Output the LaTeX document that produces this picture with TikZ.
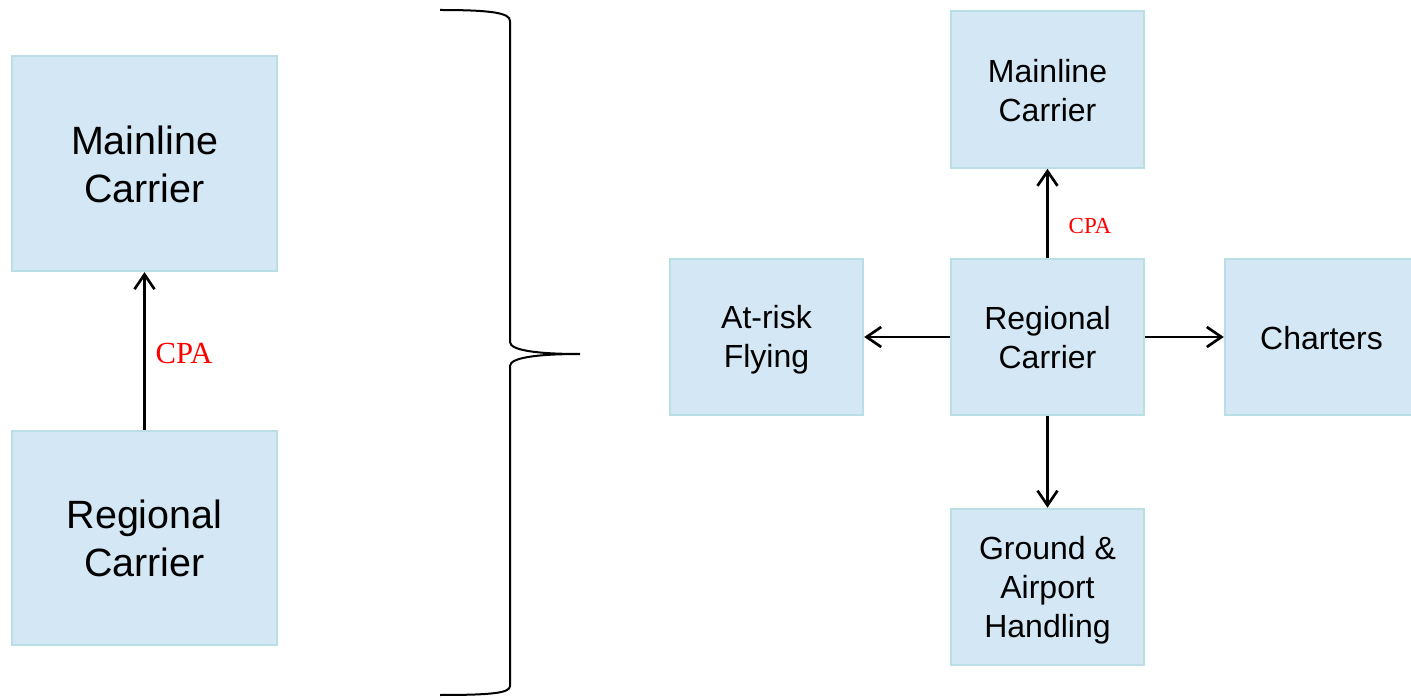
\documentclass[tikz,border=0pt]{standalone}
\usepackage{fontspec}
\setmainfont{Liberation Sans}
\newfontfamily\cpafont{Liberation Serif}
\usetikzlibrary{arrows.meta}
\definecolor{boxfill}{RGB}{212,231,245}
\definecolor{boxline}{RGB}{185,222,228}
\newcommand\smtop{\rule{0pt}{22pt}}
\newcommand\smbot{\rule[-3.25pt]{0pt}{3.25pt}}
\newcommand\bgtop{\rule{0pt}{27pt}}
\newcommand\bgbot{\rule[-5pt]{0pt}{5pt}}
\begin{document}
\begin{tikzpicture}[x=0.75pt,y=-0.75pt,
  box/.style={draw=boxline, fill=boxfill, line width=1.5pt, align=center, inner sep=0pt},
  bigbox/.style={box, minimum width=199pt, font=\fontsize{29.6}{36}\selectfont},
  smallbox/.style={box, minimum width=145pt, minimum height=117.5pt, font=\fontsize{24}{29.25}\selectfont},
  conn/.style={line width=2pt, -{Straight Barb[length=11pt,width=15pt,line width=2pt]}},
  cpabig/.style={text=red, inner sep=0pt, font=\cpafont\fontsize{23}{27}\selectfont},
  cpasmall/.style={text=red, inner sep=0pt, font=\cpafont\fontsize{17.25}{20}\selectfont}]
\useasboundingbox (0,0) rectangle (1411,698);
% left
\node[bigbox, minimum height=161.5pt] (lmain) at (144.5,163.5) {\bgtop Mainline\\Carrier\bgbot};
\node[bigbox, minimum height=160.5pt] (lreg) at (144.5,538) {\bgtop Regional\\Carrier\bgbot};
\draw[conn] (lreg.north) -- (lmain.south);
\node[cpabig] (lcpa) at (184,353) {CPA};
% brace
\draw[line width=1.5pt] (440,10) .. controls (492,10) and (510,13) .. (510,21)
  -- (510,342) .. controls (510,350) and (535,354) .. (580,354)
  .. controls (535,354) and (510,358) .. (510,366)
  -- (510,686) .. controls (510,693) and (492,695) .. (440,695);
% right
\node[smallbox] (rmain) at (1047.5,89.5) {\smtop Mainline\\Carrier\smbot};
\node[smallbox] (rreg) at (1047.5,337) {\smtop Regional\\Carrier\smbot};
\node[smallbox] (risk) at (766.5,337) {\smtop At-risk\\Flying\smbot};
\node[smallbox] (char) at (1321.5,337) {\smtop Charters\smbot};
\node[smallbox] (ground) at (1047.5,587) {\smtop Ground \&\\Airport\\Handling\smbot};
\draw[conn] (rreg.north) -- (rmain.south);
\draw[conn] (rreg.west) -- (risk.east);
\draw[conn] (rreg.east) -- (char.west);
\draw[conn] (rreg.south) -- (ground.north);
\node[cpasmall] (rcpa) at (1090,226) {CPA};
\end{tikzpicture}
\end{document}
